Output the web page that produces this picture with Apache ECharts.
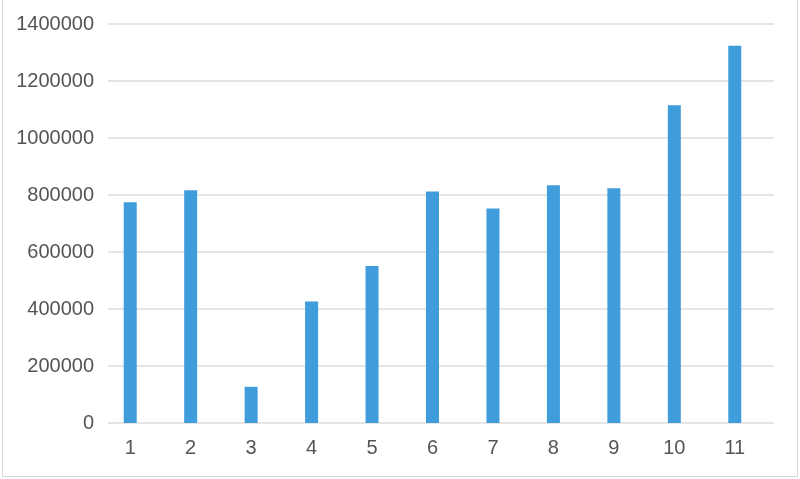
<!DOCTYPE html>
<html>
<head>
<meta charset="utf-8">
<script src="https://cdn.jsdelivr.net/npm/echarts@6/dist/echarts.min.js"></script>
<style>html,body{margin:0;padding:0;background:#fff;}#c{width:800px;height:479px;}</style>
</head>
<body>
<div id="c"></div>
<script>
const categories = ['1','2','3','4','5','6','7','8','9','10','11'];
const values = [775000, 817000, 127000, 426000, 551000, 812000, 753000, 834000, 824000, 1115000, 1324000];
const yTicks = [0, 200000, 400000, 600000, 800000, 1000000, 1200000, 1400000];

const chart = echarts.init(document.getElementById('c'));
const labelFont = { color: '#555555', fontSize: 20, fontFamily: 'Liberation Sans, Arial, sans-serif' };
chart.setOption({
  animation: false,
  grid: [
    { left: 108, right: 26, top: 24, bottom: 56 },
    { left: 100, right: 35, top: 24, bottom: 56 }
  ],
  xAxis: [
    { gridIndex: 0, type: 'category', data: categories, show: false },
    { gridIndex: 1, type: 'category', data: categories,
      axisLine: { show: false }, axisTick: { show: false },
      axisLabel: Object.assign({ margin: 15 }, labelFont) }
  ],
  yAxis: [
    { gridIndex: 0, type: 'value', min: yTicks[0], max: yTicks[yTicks.length-1], interval: 200000,
      axisLine: { show: false }, axisTick: { show: false },
      axisLabel: Object.assign({ margin: 14, formatter: function (v) { return String(v); } }, labelFont),
      splitLine: { lineStyle: { color: '#dcdcdc', width: 1.5 } } },
    { gridIndex: 1, type: 'value', min: yTicks[0], max: yTicks[yTicks.length-1], interval: 200000,
      show: false, splitLine: { show: false } }
  ],
  series: [
    { type: 'bar', xAxisIndex: 1, yAxisIndex: 1, data: values, barWidth: 13,
      itemStyle: { color: '#409ddb' } }
  ],
  graphic: [
    { type: 'polyline', shape: { points: [[2.5, 0], [2.5, 476.5], [797.5, 476.5], [797.5, 0]] },
      style: { stroke: '#d8d8d8', fill: null, lineWidth: 1 }, silent: true }
  ]
});
</script>
</body>
</html>
